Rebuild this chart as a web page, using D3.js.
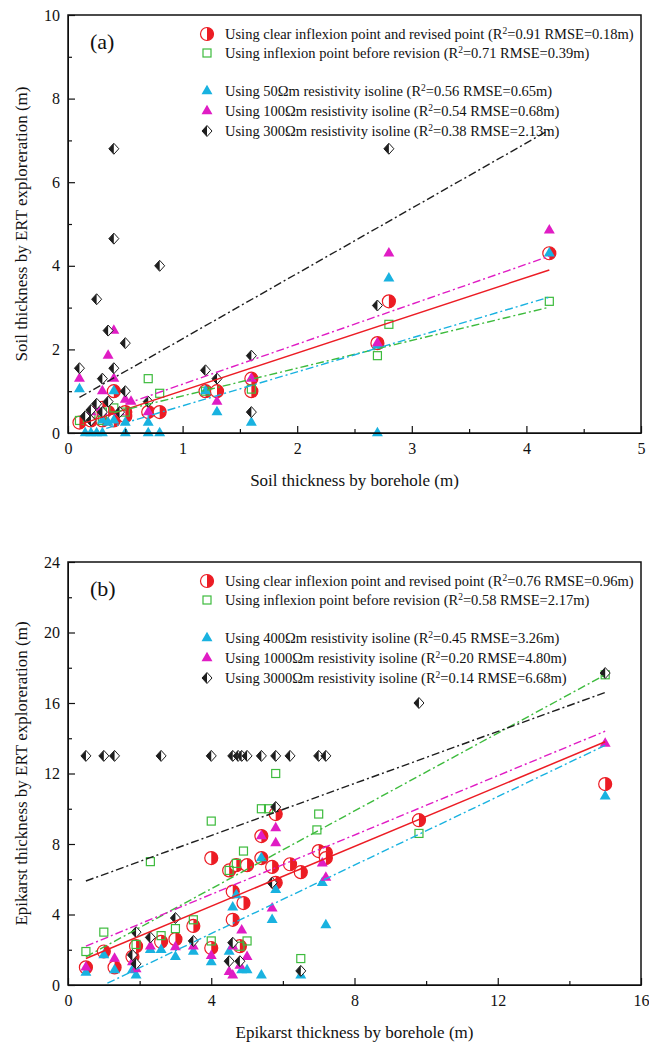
<!DOCTYPE html>
<html>
<head>
<meta charset="utf-8">
<script src="https://cdn.jsdelivr.net/npm/d3@7/dist/d3.min.js"></script>
<style>
  body { margin: 0; background: #fff; }
  text { font-family: "Liberation Serif", "Times New Roman", serif; fill: #111; }
</style>
</head>
<body>
<svg id="chart" width="649" height="1042"></svg>
<script>
// ---- (a) soil thickness ----
var soilRevisedX = [0.1, 0.2, 0.25, 0.3, 0.3, 0.35, 0.4, 0.4, 0.5, 0.5, 0.7, 0.8, 1.2, 1.3, 1.6, 1.6, 2.7, 2.8, 4.2];
var soilRevisedY = [0.25, 0.3, 0.5, 0.3, 0.6, 0.5, 1.0, 0.3, 0.5, 0.4, 0.5, 0.5, 1.0, 1.0, 1.3, 1.0, 2.15, 3.15, 4.3];
var soilBeforeX = [0.1, 0.2, 0.3, 0.3, 0.4, 0.5, 0.7, 0.8, 1.2, 1.6, 2.7, 2.8, 4.2];
var soilBeforeY = [0.3, 0.4, 0.5, 0.3, 0.6, 0.5, 1.3, 0.95, 1.0, 1.05, 1.85, 2.6, 3.15];
var soil50X = [0.1, 0.15, 0.2, 0.25, 0.3, 0.3, 0.35, 0.4, 0.4, 0.5, 0.5, 0.7, 0.7, 0.8, 1.2, 1.3, 1.6, 2.7, 2.7, 2.8, 4.2];
var soil50Y = [1.05, 0, 0, 0, 0, 0.3, 0.25, 1.0, 0.3, 0, 0.25, 0.25, 0, 0, 1.0, 0.5, 0.25, 0, 2.1, 3.7, 4.3];
var soil100X = [0.1, 0.2, 0.25, 0.3, 0.3, 0.35, 0.4, 0.4, 0.45, 0.5, 0.55, 0.7, 1.3, 1.6, 2.7, 2.8, 4.2];
var soil100Y = [1.3, 0.5, 0.6, 1.0, 0.5, 1.85, 2.45, 1.3, 0.5, 0.8, 0.75, 0.5, 0.75, 1.3, 2.15, 4.3, 4.85];
var soil300X = [0.1, 0.15, 0.2, 0.2, 0.25, 0.25, 0.3, 0.3, 0.35, 0.35, 0.4, 0.4, 0.4, 0.45, 0.5, 0.5, 0.7, 0.8, 1.2, 1.3, 1.6, 1.6, 2.7, 2.8];
var soil300Y = [1.55, 0.4, 0.3, 0.55, 3.2, 0.7, 1.3, 0.5, 2.45, 0.75, 6.8, 4.65, 1.55, 0.5, 2.15, 1.0, 0.75, 4.0, 1.5, 1.3, 1.85, 0.5, 3.05, 6.8];
// fitted lines: [x0, y0, x1, y1]
var soilFitRevised = [0.1, 0.2, 4.2, 3.9];
var soilFitBefore = [0.4, 0.49, 4.2, 3.01];
var soilFit50 = [0.2, 0.0, 4.2, 3.25];
var soilFit100 = [0.5, 0.69, 4.2, 4.23];
var soilFit300 = [0.1, 0.85, 4.2, 7.25];
var soilLegendNames = ["Using clear inflexion point and revised point (R", "Using inflexion point before revision (R",
  "Using 50\u03A9m resistivity isoline (R", "Using 100\u03A9m resistivity isoline (R", "Using 300\u03A9m resistivity isoline  (R"];
var soilLegendStats = ["=0.91 RMSE=0.18m)", "=0.71 RMSE=0.39m)", "=0.56 RMSE=0.65m)", "=0.54 RMSE=0.68m)", "=0.38 RMSE=2.13m)"];

// ---- (b) epikarst thickness ----
var epiRevisedX = [0.5, 1.0, 1.3, 1.8, 1.9, 2.6, 3.0, 3.5, 4.0, 4.0, 4.5, 4.6, 4.6, 4.7, 4.8, 4.9, 5.0, 5.4, 5.4, 5.7, 5.8, 5.8, 6.2, 6.5, 7.0, 7.2, 7.2, 9.8, 15];
var epiRevisedY = [1.0, 1.9, 1.0, 1.6, 2.2, 2.45, 2.6, 3.35, 2.1, 7.2, 6.5, 5.3, 3.7, 6.8, 2.2, 4.65, 6.8, 7.2, 8.45, 6.7, 5.8, 9.7, 6.85, 6.4, 7.6, 7.5, 7.2, 9.35, 11.4];
var epiBeforeX = [0.5, 1.0, 1.9, 2.3, 2.6, 3.0, 3.5, 4.0, 4.0, 4.5, 4.7, 4.8, 4.9, 5.0, 5.4, 5.6, 5.8, 6.5, 6.95, 7.0, 9.8, 15];
var epiBeforeY = [1.9, 3.0, 2.3, 7.0, 2.8, 3.2, 3.7, 2.5, 9.3, 6.5, 6.9, 2.2, 7.6, 2.5, 10.0, 10.0, 12.0, 1.5, 8.8, 9.7, 8.6, 17.6];
var epi400X = [0.5, 1.0, 1.3, 1.8, 1.9, 2.3, 2.6, 3.0, 3.5, 4.0, 4.5, 4.6, 4.7, 4.85, 5.0, 5.4, 5.4, 5.7, 5.8, 6.5, 7.1, 7.2, 15];
var epi400Y = [0.7, 1.7, 0.85, 0.85, 0.55, 2.0, 2.0, 1.6, 1.9, 1.3, 1.9, 4.4, 5.1, 0.85, 0.85, 0.55, 7.2, 3.7, 5.4, 0.55, 5.8, 3.4, 10.7];
var epi1000X = [0.5, 1.3, 1.8, 1.9, 2.3, 3.0, 3.5, 4.0, 4.5, 4.6, 4.6, 4.8, 4.85, 5.0, 5.4, 5.7, 5.8, 5.8, 7.1, 7.2, 15];
var epi1000Y = [1.0, 1.5, 1.3, 0.9, 2.2, 2.15, 2.2, 1.65, 0.75, 0.55, 2.2, 1.1, 3.1, 1.6, 8.45, 4.35, 8.9, 8.05, 6.9, 6.1, 13.7];
var epi3000X = [0.5, 1.0, 1.3, 2.6, 4.0, 4.6, 4.75, 4.85, 5.0, 5.4, 5.8, 6.2, 7.0, 7.2, 1.9, 2.3, 3.0, 3.5, 1.8, 1.9, 4.6, 4.5, 4.8, 5.7, 5.8, 6.5, 9.8, 15];
var epi3000Y = [13, 13, 13, 13, 13, 13, 13, 13, 13, 13, 13, 13, 13, 13, 3.0, 2.7, 3.8, 2.5, 1.7, 1.2, 2.4, 1.35, 1.35, 5.8, 10.1, 0.8, 16.0, 17.7];
var epiFitRevised = [0.5, 1.5, 15, 13.8];
var epiFitBefore = [0.5, 1.6, 15, 17.6];
var epiFit400 = [1.1, 0.1, 15, 13.6];
var epiFit1000 = [0.5, 2.2, 15, 14.4];
var epiFit3000 = [0.5, 5.9, 15, 16.6];
var epiLegendNames = ["Using clear inflexion point and revised point (R", "Using inflexion point before revision (R",
  "Using 400\u03A9m resistivity isoline (R", "Using 1000\u03A9m resistivity isoline (R", "Using 3000\u03A9m resistivity isoline (R"];
var epiLegendStats = ["=0.76 RMSE=0.96m)", "=0.58 RMSE=2.17m)", "=0.45 RMSE=3.26m)", "=0.20 RMSE=4.80m)", "=0.14 RMSE=6.68m)"];

var RED = "#ec1c24", GREEN = "#3dbb3d", CYAN = "#19b2e0", MAG = "#e01cc4", BLACK = "#1e1e1e";
var kinds = ["half", "square", "tri", "tri", "diamond"];
var colors = [RED, GREEN, CYAN, MAG, BLACK];
var dashes = [null, "8,3,2,3", "8,3,2,3", "8,3,2,3", "8,3,2,3"];

var svg = d3.select("#chart");

function drawMarker(sel, kind, color) {
  if (kind == "half") {
    sel.append("circle").attr("r", 6.5).attr("fill", "#fff").attr("stroke", color).attr("stroke-width", 1.2);
    sel.append("path").attr("d", "M0,-6.5A6.5,6.5 0 0 1 0,6.5Z").attr("fill", color);
  } else if (kind == "square") {
    sel.append("rect").attr("x", -4).attr("y", -4).attr("width", 8).attr("height", 8)
      .attr("fill", "none").attr("stroke", color).attr("stroke-width", 1.2);
  } else if (kind == "tri") {
    sel.append("path").attr("d", d3.symbol().type(d3.symbolTriangle).size(52)).attr("fill", color);
  } else {
    sel.append("path").attr("d", "M0,-5.5L5,0L0,5.5L-5,0Z").attr("fill", "#fff").attr("stroke", color).attr("stroke-width", 1);
    sel.append("path").attr("d", "M0,-5.5L-5,0L0,5.5Z").attr("fill", color);
  }
}

function drawPanel(p) {
  var x = d3.scaleLinear().domain(p.xDomain).range([68, 641]);
  var y = d3.scaleLinear().domain(p.yDomain).range([p.bottom, p.top]);
  var g = svg.append("g");
  var fmt = d3.format("d");

  // points (drawn first, fits on top)
  p.series.forEach(function(s, i) {
    var pts = d3.zip(s[0], s[1]);
    g.append("g").selectAll("g").data(pts).enter().append("g")
      .attr("transform", function(d) { return "translate(" + x(d[0]) + "," + y(d[1]) + ")"; })
      .each(function() { drawMarker(d3.select(this), kinds[i], colors[i]); });
  });

  var line = d3.line().x(function(d) { return x(d[0]); }).y(function(d) { return y(d[1]); });
  p.fits.forEach(function(f, i) {
    g.append("path")
      .attr("d", line([[f[0], f[1]], [f[2], f[3]]]))
      .attr("fill", "none")
      .attr("stroke", colors[i])
      .attr("stroke-width", i == 0 ? 1.5 : 1.4)
      .attr("stroke-dasharray", dashes[i]);
  });

  // axes, inward ticks
  var xa = g.append("g").attr("transform", "translate(0," + p.bottom + ")")
    .call(d3.axisBottom(x).tickValues(p.xTicks).tickFormat(fmt).tickSize(-7).tickSizeOuter(0).tickPadding(10));
  g.append("g").attr("transform", "translate(0," + p.bottom + ")")
    .call(d3.axisBottom(x).tickValues(p.xMinor).tickSize(-4).tickSizeOuter(0).tickFormat(""))
    .select(".domain").remove();
  var ya = g.append("g").attr("transform", "translate(68,0)")
    .call(d3.axisLeft(y).tickValues(p.yTicks).tickFormat(fmt).tickSize(-7).tickSizeOuter(0).tickPadding(8));
  g.append("g").attr("transform", "translate(68,0)")
    .call(d3.axisLeft(y).tickValues(p.yMinor).tickSize(-4).tickSizeOuter(0).tickFormat(""))
    .select(".domain").remove();
  g.selectAll(".tick line").attr("stroke", "#111").attr("stroke-width", 1.2);
  [xa, ya].forEach(function(a) {
    a.attr("font-family", null).attr("font-size", null);
    a.selectAll("text").style("font-size", "16px");
  });

  g.append("rect").attr("x", 68).attr("y", p.top).attr("width", 641 - 68).attr("height", p.bottom - p.top)
    .attr("fill", "none").attr("stroke", "#111").attr("stroke-width", 1.5);

  g.append("text").attr("x", 90).attr("y", p.top + 34).style("font-size", "22px").text(p.tag);
  g.append("text").attr("x", (68 + 641) / 2).attr("y", p.bottom + 53)
    .attr("text-anchor", "middle").style("font-size", "17px").text(p.xTitle);
  g.append("text").attr("transform", "translate(27," + (p.top + p.bottom) / 2 + ") rotate(-90)")
    .attr("text-anchor", "middle").style("font-size", "17px").text(p.yTitle);

  // legend
  var rows = [19, 38, 76, 96, 116];
  p.names.forEach(function(n, i) {
    var ly = p.top + rows[i];
    drawMarker(g.append("g").attr("transform", "translate(207," + ly + ")"), kinds[i], colors[i]);
    var t = g.append("text").attr("x", 225).attr("y", ly).attr("dy", "0.35em").style("font-size", "14.5px");
    t.append("tspan").text(n);
    t.append("tspan").attr("dy", -5).style("font-size", "9.5px").text("2");
    t.append("tspan").attr("dy", 5).text(p.stats[i]);
  });
}

drawPanel({
  top: 15, bottom: 433, xDomain: [0, 5], yDomain: [0, 10],
  xTicks: [0, 1, 2, 3, 4, 5], xMinor: [0.5, 1.5, 2.5, 3.5, 4.5],
  yTicks: [0, 2, 4, 6, 8, 10], yMinor: [1, 3, 5, 7, 9],
  series: [[soilRevisedX, soilRevisedY], [soilBeforeX, soilBeforeY], [soil50X, soil50Y], [soil100X, soil100Y], [soil300X, soil300Y]],
  fits: [soilFitRevised, soilFitBefore, soilFit50, soilFit100, soilFit300],
  names: soilLegendNames, stats: soilLegendStats, tag: "(a)",
  xTitle: "Soil thickness by borehole (m)", yTitle: "Soil thickness by ERT exploreration (m)"
});

drawPanel({
  top: 562, bottom: 985, xDomain: [0, 16], yDomain: [0, 24],
  xTicks: [0, 4, 8, 12, 16], xMinor: [2, 6, 10, 14],
  yTicks: [0, 4, 8, 12, 16, 20, 24], yMinor: [2, 6, 10, 14, 18, 22],
  series: [[epiRevisedX, epiRevisedY], [epiBeforeX, epiBeforeY], [epi400X, epi400Y], [epi1000X, epi1000Y], [epi3000X, epi3000Y]],
  fits: [epiFitRevised, epiFitBefore, epiFit400, epiFit1000, epiFit3000],
  names: epiLegendNames, stats: epiLegendStats, tag: "(b)",
  xTitle: "Epikarst thickness by borehole (m)", yTitle: "Epikarst thickness by ERT exploreration (m)"
});
</script>
</body>
</html>
